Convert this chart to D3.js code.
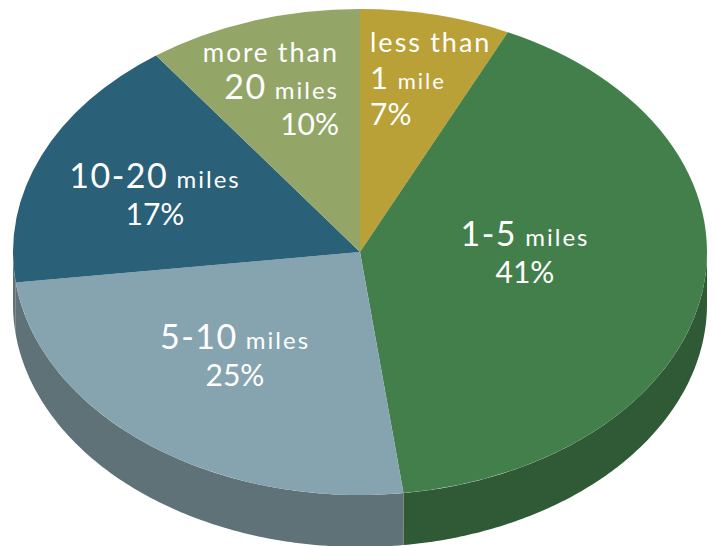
<!DOCTYPE html>
<html>
<head>
<meta charset="utf-8">
<script src="https://cdnjs.cloudflare.com/ajax/libs/d3/7.8.5/d3.min.js"></script>
<style>
html,body{margin:0;padding:0;background:#fff;}
svg{display:block;}
text{font-family:"Lato",sans-serif;fill:#fff;font-weight:400;}
</style>
</head>
<body>
<svg id="c" width="714" height="546"></svg>
<script>
const categories = ["less than 1 mile", "1-5 miles", "5-10 miles", "10-20 miles", "more than 20 miles"];
const shares = [7, 41, 25, 17, 10];
const labelLines = [
  ["less than", "1 mile", "7%"],
  ["1-5 miles", "41%"],
  ["5-10 miles", "25%"],
  ["10-20 miles", "17%"],
  ["more than", "20 miles", "10%"]
];
const topColors = ["#b9a037", "#427f4b", "#86a4af", "#2a6078", "#93a667"];
const sideColors = ["#8a7729", "#2f5a35", "#5e7278", "#5e7278", "#6d7c4c"];

const width = 714, height = 546;
const cx = 360, cy = 252, rx = 347, ry = 243, depth = 52;
const lineStep = 36.5;

const labelAnchors = [
  {x: 370, y: 52, anchor: "start"},
  {x: 525, y: 246, anchor: "middle"},
  {x: 235, y: 349, anchor: "middle"},
  {x: 155, y: 188, anchor: "middle"},
  {x: 339, y: 62, anchor: "end"}
];

const svg = d3.select("#c");
const slices = d3.pie().sort(null).value(d => d)(shares);

// Side wall: visible only on the front half of the ellipse
const sx = d3.scaleLinear().domain([-1, 1]).range([cx - rx, cx + rx]);
const sy = d3.scaleLinear().domain([-1, 1]).range([cy - ry, cy + ry]);
const wall = d3.area()
  .x(a => sx(Math.sin(a)))
  .y0(a => sy(-Math.cos(a)))
  .y1(a => sy(-Math.cos(a)) + depth);

const frontStart = Math.PI / 2, frontEnd = Math.PI * 3 / 2;
svg.append("g").selectAll("path")
  .data(slices.filter(s => s.endAngle > frontStart && s.startAngle < frontEnd))
  .join("path")
  .attr("fill", d => sideColors[d.index])
  .attr("d", d => {
    const a0 = Math.max(d.startAngle, frontStart), a1 = Math.min(d.endAngle, frontEnd);
    return wall(d3.range(0, 121).map(i => a0 + (a1 - a0) * i / 120));
  });

// Top face: circular arcs squashed to an ellipse
const arc = d3.arc().innerRadius(0).outerRadius(rx);
svg.append("g")
  .attr("transform", `translate(${cx},${cy}) scale(1,${ry / rx})`)
  .selectAll("path")
  .data(slices)
  .join("path")
  .attr("fill", d => topColors[d.index])
  .attr("d", arc);

// Labels: numerals larger than words, as in the hand-lettered original
function partSize(part) {
  if (part.includes("%")) return 30;
  if (part === "1") return 31;
  if (/\d/.test(part)) return 34;
  if (part === "less" || part === "than") return 27;
  if (part === "more") return 26;
  if (part === "mile") return 22;
  return 24;
}
const labels = svg.append("g");
labelLines.forEach((lines, i) => {
  const a = labelAnchors[i];
  lines.forEach((line, j) => {
    const t = labels.append("text")
      .attr("x", a.x)
      .attr("y", a.y + j * lineStep)
      .attr("text-anchor", a.anchor);
    line.split(/(\s+)/).forEach(part => {
      t.append("tspan")
        .attr("font-size", partSize(part))
        .attr("letter-spacing", part.includes("%") ? 0 : (/\d/.test(part) ? 1.5 : 2))
        .text(part);
    });
  });
});
</script>
</body>
</html>
